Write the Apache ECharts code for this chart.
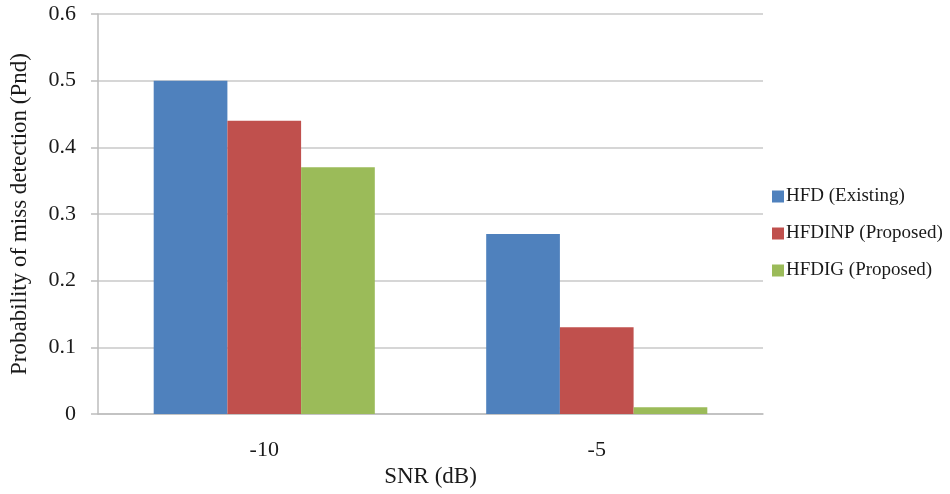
<!DOCTYPE html>
<html><head><meta charset="utf-8">
<script src="https://cdn.jsdelivr.net/npm/echarts@6/dist/echarts.min.js"></script>
<style>html,body{margin:0;padding:0;background:#fff}#c{width:950px;height:494px}</style>
</head><body><div id="c"></div>
<script>
const categories = ['-10', '-5'];
const seriesNames = ['HFD (Existing)', 'HFDINP (Proposed)', 'HFDIG (Proposed)'];
const hfd = [0.50, 0.27];
const hfdinp = [0.44, 0.13];
const hfdig = [0.37, 0.01];
const colors = ['#4F81BD', '#C0504D', '#9BBB59'];
const font = 'Liberation Serif';
const chart = echarts.init(document.getElementById('c'));
chart.setOption({
  animation: false,
  textStyle: {fontFamily: font},
  grid: {left: 95, right: 187, top: 14, bottom: 80, containLabel: false},
  legend: {
    orient: 'vertical', left: 767, top: 182, itemWidth: 12, itemHeight: 12, itemGap: 18,
    icon: 'rect',
    textStyle: {fontFamily: font, fontSize: 19, color: '#1a1a1a', padding: [0,0,0,-3]},
    data: seriesNames
  },
  xAxis: {
    type: 'category', data: categories,
    name: 'SNR (dB)', nameLocation: 'middle', nameGap: 46,
    nameTextStyle: {fontFamily: font, fontSize: 23, color: '#1a1a1a'},
    axisLine: {lineStyle: {color: '#bdbdbd', width: 1.5}},
    axisTick: {show: false},
    axisLabel: {fontFamily: font, fontSize: 22, color: '#1a1a1a', margin: 25}
  },
  yAxis: {
    type: 'value', min: 0, max: 0.6, interval: 0.1,
    name: 'Probability of miss detection (Pnd)', nameLocation: 'middle', nameGap: 67,
    nameTextStyle: {fontFamily: font, fontSize: 23, color: '#1a1a1a'},
    axisLine: {show: true, lineStyle: {color: '#bdbdbd', width: 1.5}},
    axisTick: {show: true, length: 7, lineStyle: {color: '#bdbdbd', width: 1.5}},
    splitLine: {lineStyle: {color: '#c8c8c8', width: 1.5}},
    axisLabel: {fontFamily: font, fontSize: 22, color: '#1a1a1a', margin: 22,
      formatter: v => v === 0 ? '0' : v.toFixed(1)}
  },
  series: [
    {name: seriesNames[0], type: 'bar', data: hfd, itemStyle: {color: colors[0]}, barGap: '0%', barCategoryGap: '33.5%'},
    {name: seriesNames[1], type: 'bar', data: hfdinp, itemStyle: {color: colors[1]}, barGap: '0%', barCategoryGap: '33.5%'},
    {name: seriesNames[2], type: 'bar', data: hfdig, itemStyle: {color: colors[2]}, barGap: '0%', barCategoryGap: '33.5%'}
  ]
});
</script></body></html>
